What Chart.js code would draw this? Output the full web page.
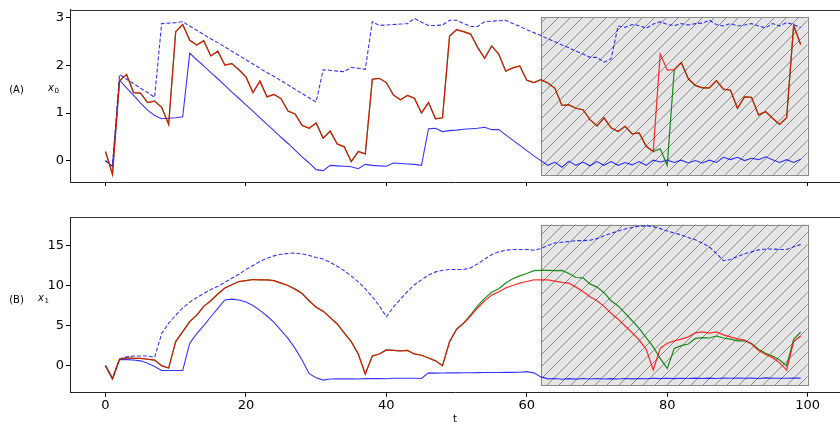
<!DOCTYPE html>
<html><head><meta charset="utf-8">
<script src="https://cdn.jsdelivr.net/npm/chart.js@4.4.1/dist/chart.umd.min.js"></script>
<style>
html,body{margin:0;padding:0;background:#fff;}
#wrap{position:relative;width:840px;height:424px;overflow:hidden;background:#fff;}
#c1{position:absolute;left:0;top:0;}
#c2{position:absolute;left:0;top:200px;}
</style></head><body>
<div id="wrap"><canvas id="c1" width="840" height="200"></canvas><canvas id="c2" width="840" height="224"></canvas></div>
<script>
// ---------- data ----------
const tValues = Array.from({length:100}, (_, i) => i);
const xTicks = [0, 20, 40, 60, 80, 100];
const x0Ticks = [0, 1, 2, 3];
const x1Ticks = [0, 5, 10, 15];

// panel A : x0
const x0Pred = [0.19,-0.29,1.68,1.81,1.43,1.42,1.22,1.25,1.12,0.76,
 2.71,2.86,2.53,2.43,2.52,2.20,2.30,2.01,2.04,1.91,
 1.76,1.43,1.67,1.34,1.39,1.30,1.04,0.98,0.74,0.68,
 0.79,0.47,0.62,0.35,0.29,-0.02,0.19,0.14,1.71,1.73,
 1.64,1.38,1.28,1.37,1.31,1.00,1.22,0.88,0.90,2.62,
 2.75,2.71,2.66,2.38,2.15,2.41,2.24,1.88,1.95,1.99,
 1.69,1.64,1.70,1.63,1.52,1.16,1.17,1.10,1.07,0.86,
 0.73,0.90,0.69,0.61,0.72,0.56,0.58,0.30,0.19,2.24,
 1.90,1.91,2.06,1.72,1.58,1.53,1.53,1.68,1.50,1.48,
 1.10,1.34,1.33,0.96,1.03,0.89,0.76,0.90,2.84,2.44];
const x0True = [0.19,-0.29,1.68,1.81,1.43,1.42,1.22,1.25,1.12,0.76,
 2.71,2.86,2.53,2.43,2.52,2.20,2.30,2.01,2.04,1.91,
 1.76,1.43,1.67,1.34,1.39,1.30,1.04,0.98,0.74,0.68,
 0.79,0.47,0.62,0.35,0.29,-0.02,0.19,0.14,1.71,1.73,
 1.64,1.38,1.28,1.37,1.31,1.00,1.22,0.88,0.90,2.62,
 2.75,2.71,2.66,2.38,2.15,2.41,2.24,1.88,1.95,1.99,
 1.69,1.64,1.70,1.63,1.52,1.16,1.17,1.10,1.07,0.86,
 0.73,0.90,0.69,0.61,0.72,0.56,0.58,0.30,0.19,0.25,
 -0.10,1.91,2.06,1.72,1.58,1.53,1.53,1.68,1.50,1.48,
 1.10,1.34,1.33,0.96,1.03,0.89,0.76,0.90,2.84,2.44];
const x0Upper = [0.00,-0.12,1.81,1.71,1.62,1.52,1.43,1.33,2.88,2.89,
 2.90,2.92,2.83,2.74,2.65,2.56,2.48,2.39,2.30,2.21,
 2.12,2.03,1.94,1.85,1.77,1.68,1.59,1.50,1.41,1.32,
 1.23,1.91,1.90,1.88,1.87,1.96,1.94,1.92,2.92,2.84,
 2.85,2.86,2.87,2.88,2.99,2.91,2.84,2.84,2.85,2.95,
 2.95,2.88,2.82,2.82,2.92,2.93,2.94,2.95,2.88,2.82,
 2.75,2.69,2.63,2.56,2.50,2.43,2.37,2.30,2.24,2.17,
 2.17,2.07,2.14,2.83,2.80,2.86,2.84,2.78,2.87,2.92,
 2.86,2.84,2.88,2.85,2.88,2.89,2.95,2.86,2.83,2.88,
 2.83,2.85,2.88,2.83,2.79,2.88,2.83,2.90,2.86,2.80];
const x0Lower = [0.00,-0.12,1.69,1.53,1.37,1.21,1.06,0.95,0.88,0.89,
 0.90,0.92,2.26,2.12,1.99,1.85,1.72,1.58,1.44,1.31,
 1.17,1.04,0.90,0.76,0.63,0.49,0.36,0.22,0.08,-0.05,
 -0.19,-0.21,-0.10,-0.11,-0.12,-0.13,-0.17,-0.08,-0.10,-0.11,
 -0.12,-0.05,-0.06,-0.07,-0.08,-0.10,0.67,0.68,0.61,0.63,
 0.64,0.66,0.67,0.68,0.70,0.65,0.65,0.54,0.43,0.32,
 0.21,0.10,0.00,-0.10,-0.03,-0.14,-0.01,-0.10,-0.03,-0.11,
 -0.02,-0.10,-0.02,-0.10,-0.04,-0.09,-0.02,-0.10,0.01,-0.03,
 0.01,-0.04,0.01,-0.05,0.00,-0.05,0.01,-0.04,0.07,0.02,
 0.07,0.00,0.05,0.02,0.08,0.02,-0.04,0.02,-0.04,0.03];

// panel B : x1
const x1Pred = [0.0,-1.6,0.8,0.96,0.9,0.9,0.8,0.7,0.0,-0.3,
 3.0,4.25,5.5,6.3,7.4,8.1,8.95,9.7,10.1,10.5,
 10.6,10.75,10.7,10.7,10.6,10.3,10.0,9.55,9.0,8.1,
 7.3,6.8,6.0,5.2,4.1,3.0,1.46,-1.04,1.2,1.45,
 1.96,1.9,1.85,1.9,1.46,1.3,0.96,0.6,0.0,3.0,
 4.55,5.3,6.2,7.2,8.1,8.8,9.2,9.7,10.0,10.3,
 10.5,10.7,10.7,10.7,10.55,10.4,10.3,9.8,9.25,8.6,
 8.1,7.4,6.55,5.8,4.95,4.1,3.2,2.05,-0.55,2.15,
 2.8,3.1,3.3,3.6,4.1,4.2,4.05,4.2,3.85,3.6,
 3.35,3.2,2.7,1.9,1.4,1.0,0.35,-0.55,3.0,3.7];
const x1True = [0.0,-1.6,0.8,0.96,0.9,0.9,0.8,0.7,0.0,-0.3,
 3.0,4.25,5.5,6.3,7.4,8.1,8.95,9.7,10.1,10.5,
 10.6,10.75,10.7,10.7,10.6,10.3,10.0,9.55,9.0,8.1,
 7.3,6.8,6.0,5.2,4.1,3.0,1.46,-1.04,1.2,1.45,
 1.96,1.9,1.85,1.9,1.46,1.3,0.96,0.6,0.0,3.0,
 4.55,5.3,6.34,7.46,8.4,9.15,9.6,10.3,10.85,11.2,
 11.5,11.85,11.88,11.9,11.85,11.88,11.5,11.0,10.95,10.2,
 9.8,9.1,8.1,7.45,6.55,5.6,4.65,3.5,2.35,0.9,
 -0.35,2.15,2.5,2.7,3.4,3.5,3.45,3.7,3.45,3.3,
 3.1,3.1,2.75,2.05,1.55,1.2,0.7,0.0,3.3,4.2];
const x1Upper = [0.0,-1.66,0.85,1.1,1.2,1.2,1.2,1.05,4.0,5.3,
 6.3,7.2,7.9,8.5,9.0,9.5,9.9,10.4,10.9,11.4,
 12.0,12.5,13.0,13.4,13.7,13.9,14.0,14.05,13.95,13.75,
 13.5,13.3,12.9,12.4,11.85,11.2,10.45,9.6,8.6,7.45,
 6.1,7.3,8.3,9.25,10.1,10.7,11.3,11.7,11.9,12.0,
 12.0,12.0,12.2,12.7,13.3,13.85,14.2,14.4,14.5,14.5,
 14.5,14.4,14.6,15.0,15.3,15.4,15.5,15.6,15.6,15.65,
 15.85,16.2,16.5,16.8,17.05,17.25,17.4,17.45,17.35,17.1,
 16.8,16.55,16.3,16.0,15.7,15.3,14.8,14.0,13.1,13.25,
 13.6,13.95,14.2,14.45,14.55,14.55,14.5,14.5,14.85,15.1];
const x1Lower = [0.0,-1.66,0.75,0.75,0.7,0.6,0.3,-0.1,-0.6,-0.6,
 -0.6,-0.6,2.8,4.0,5.0,6.1,7.15,8.2,8.3,8.2,
 7.95,7.5,6.9,6.2,5.4,4.4,3.4,2.15,0.7,-1.0,
 -1.5,-1.8,-1.66,-1.65,-1.65,-1.65,-1.66,-1.62,-1.62,-1.62,
 -1.63,-1.58,-1.58,-1.58,-1.58,-1.6,-0.9,-0.93,-0.92,-0.9,
 -0.9,-0.88,-0.88,-0.87,-0.86,-0.86,-0.85,-0.84,-0.84,-0.82,
 -0.75,-0.9,-1.4,-1.65,-1.6,-1.7,-1.62,-1.68,-1.6,-1.66,
 -1.6,-1.66,-1.62,-1.66,-1.6,-1.65,-1.6,-1.64,-1.58,-1.62,
 -1.58,-1.62,-1.57,-1.6,-1.56,-1.6,-1.56,-1.6,-1.54,-1.58,
 -1.56,-1.58,-1.56,-1.6,-1.52,-1.58,-1.58,-1.58,-1.56,-1.56];

// shaded (forecast) window
const shadeT = [62, 100];
const shadeA = [-0.30, 3.02];
const shadeB = [-2.41, 17.6];

// ---------- styling ----------
const FONT = '"DejaVu Sans", sans-serif';
const C_RED = 'rgba(255,0,0,0.8)';
const C_GREEN = 'rgba(0,128,0,0.9)';
const C_BLUE = 'rgba(0,0,255,0.8)';

function pts(arr){ return arr.map((v,i)=>({x:tValues[i], y:v})); }

function hatchPattern(ctx){
  const s = 12;
  const c = document.createElement('canvas'); c.width = s; c.height = s;
  const g = c.getContext('2d');
  g.fillStyle = '#e5e5e5'; g.fillRect(0,0,s,s);
  g.strokeStyle = '#8a8a8a'; g.lineWidth = 1;
  g.beginPath();
  g.moveTo(-1, s+1); g.lineTo(s+1, -1);
  g.moveTo(-1, 1); g.lineTo(1, -1);
  g.moveTo(s-1, s+1); g.lineTo(s+1, s-1);
  g.stroke();
  return ctx.createPattern(c, 'repeat');
}

const panelPlugin = {
  id: 'panel',
  beforeDatasetsDraw(chart, args, o){
    const {ctx, scales:{x, y}} = chart;
    const x1 = x.getPixelForValue(o.shadeT[0]), x2 = x.getPixelForValue(o.shadeT[1]);
    const y1 = y.getPixelForValue(o.shadeY[1]), y2 = y.getPixelForValue(o.shadeY[0]);
    ctx.save();
    ctx.fillStyle = hatchPattern(ctx);
    ctx.fillRect(x1, y1, x2-x1, y2-y1);
    ctx.strokeStyle = '#888'; ctx.lineWidth = 1;
    ctx.strokeRect(Math.round(x1)+0.5, Math.round(y1)+0.5, Math.round(x2-x1), Math.round(y2-y1));
    ctx.restore();
  },
  afterDraw(chart, args, o){
    const {ctx, chartArea:a} = chart;
    ctx.save();
    ctx.strokeStyle = '#333'; ctx.lineWidth = 1;
    ctx.beginPath(); ctx.moveTo(a.left, Math.round(a.top)+0.5); ctx.lineTo(a.right, Math.round(a.top)+0.5); ctx.stroke();
    ctx.fillStyle = '#000'; ctx.textBaseline = 'middle'; ctx.textAlign = 'center';
    ctx.font = '10px ' + FONT;
    ctx.fillText(o.panel, 16.5, o.labelY);
    ctx.textAlign = 'left';
    ctx.font = 'italic 10px ' + FONT;
    ctx.fillText('x', o.varX, o.labelY - 1.5);
    const w = ctx.measureText('x').width;
    ctx.font = '7px ' + FONT;
    ctx.fillText(o.sub, o.varX + w + 0.5, o.labelY + 1.5);
    ctx.restore();
  }
};

function makeChart(canvasId, series, yMin, yMax, yTicks, opt){
  const ctx = document.getElementById(canvasId).getContext('2d');
  // Chart.js paints the first dataset last (on top)
  return new Chart(ctx, {
    type: 'line',
    data: { datasets: [
      {data: pts(series.pred), borderColor: C_RED, borderWidth: 1.25},
      {data: pts(series.truth), borderColor: C_GREEN, borderWidth: 1.2},
      {data: pts(series.lower), borderColor: C_BLUE, borderWidth: 1.1},
      {data: pts(series.upper), borderColor: C_BLUE, borderWidth: 1.1, borderDash: [4,2]}
    ]},
    options: {
      responsive: false, animation: false, devicePixelRatio: 1,
      parsing: false, normalized: true,
      elements: { point: {radius: 0, hoverRadius: 0}, line: {tension: 0, fill: false} },
      layout: { padding: {top: opt.padTop, left: 0, right: 0, bottom: 0} },
      plugins: { legend: {display: false}, tooltip: {enabled: false},
        panel: { shadeT: shadeT, shadeY: opt.shadeY, panel: opt.panel, sub: opt.sub, labelY: opt.labelY, varX: opt.varX } },
      events: [],
      scales: {
        x: {
          type: 'linear', min: -5.05, max: 104.6,
          afterBuildTicks: s => { s.ticks = xTicks.map(v => ({value: v})); },
          afterFit: s => { s.height = opt.xHeight; },
          grid: { drawOnChartArea: false, drawTicks: true, tickLength: 4, color: '#000', tickWidth: 1 },
          border: { display: true, color: '#222', width: 1 },
          ticks: { display: opt.showX, color: '#000', padding: 1, maxRotation: 0, font: {family: FONT, size: 13}, autoSkip: false },
          title: { display: opt.showX, text: 't', color: '#000', font: {family: FONT, size: 10, lineHeight: 1}, padding: {top: 0, bottom: 0} }
        },
        y: {
          type: 'linear', min: yMin, max: yMax,
          afterBuildTicks: s => { s.ticks = yTicks.map(v => ({value: v})); },
          afterFit: s => { s.width = 70; },
          grid: { drawOnChartArea: false, drawTicks: true, tickLength: 4, color: '#000', tickWidth: 1 },
          border: { display: true, color: '#222', width: 1 },
          ticks: { color: '#000', padding: 2, font: {family: FONT, size: 13} }
        }
      }
    },
    plugins: [panelPlugin]
  });
}

makeChart('c1', {upper: x0Upper, lower: x0Lower, truth: x0True, pred: x0Pred}, -0.45, 3.17, x0Ticks,
  {padTop: 7, xHeight: 18, showX: false, shadeY: shadeA, panel: '(A)', sub: '0', labelY: 90, varX: 48});
makeChart('c2', {upper: x1Upper, lower: x1Lower, truth: x1True, pred: x1Pred}, -3.375, 18.55, x1Ticks,
  {padTop: 17, xHeight: 31.3, showX: true, shadeY: shadeB, panel: '(B)', sub: '1', labelY: 100, varX: 38});
</script>
</body></html>
